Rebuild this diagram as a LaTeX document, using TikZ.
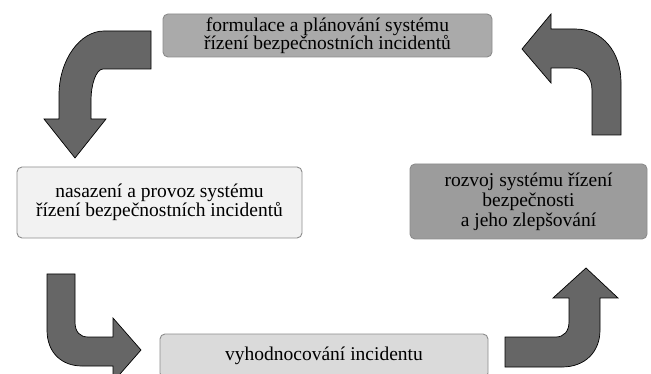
\documentclass[tikz,border=0pt]{standalone}
\usepackage{fontspec}
\setmainfont{Liberation Serif}
\usetikzlibrary{positioning}
\definecolor{arrowgray}{HTML}{666666}
\definecolor{plangray}{HTML}{AAAAAA}
\definecolor{deploygray}{HTML}{F2F2F2}
\definecolor{evalgray}{HTML}{DADADA}
\definecolor{improvegray}{HTML}{9C9C9C}
\tikzset{
    %Define style for the stage boxes
    stage/.style={
      rectangle,
      rounded corners=5pt,
      draw=black!45, line width=0.9pt,
      inner sep=0pt,
      align=center,
      font=\fontsize{19.5}{18.5}\selectfont},
    % Define style for the bent block arrows
    bentarr/.style={
      fill=arrowgray,
      draw=black,
      line width=0.7pt,
      line join=miter}
}

\begin{document}
\begin{tikzpicture}[x=1pt, y=-1pt]
    \clip (0,0) rectangle (651,374);
    \fill[white] (0,0) rectangle (651,374);

    \node[stage, fill=plangray, minimum width=329pt, minimum height=43pt]
      (plan) at (327.5,35.5)
      {formulace a plánování systému\\řízení bezpečnostních incidentů};
    \node[stage, fill=deploygray, minimum width=285pt, minimum height=71pt]
      (deploy) at (159.5,202.5)
      {nasazení a provoz systému\\řízení bezpečnostních incidentů};
    \node[stage, fill=improvegray, minimum width=237pt, minimum height=75pt,
      font=\fontsize{19.5}{20}\selectfont]
      (improve) at (528.5,201.5)
      {rozvoj systému řízení\\bezpečnosti\\a jeho zlepšování};
    \node[stage, fill=evalgray, minimum width=328pt, minimum height=44pt]
      (evaluate) at (324,356)
      {vyhodnocování incidentu};

    % plan -> deploy
    \draw[bentarr] (151,31) -- (104,31) .. controls (80,31) and (59,60) .. (59,95)
      -- (59,119) -- (44,119) -- (75,158) -- (106,119) -- (91,119) -- (91,100)
      .. controls (91,85) and (96,69) .. (103,69) -- (151,69) -- cycle;
    % deploy -> evaluate
    \draw[bentarr] (47,274) -- (47,330) .. controls (47,353) and (62,366) .. (82,366)
      -- (113,366) -- (113,382) -- (141,350) -- (113,318) -- (113,337) -- (88,337)
      .. controls (80,337) and (75,332) .. (75,322) -- (75,274) -- cycle;
    % evaluate -> improve
    \draw[bentarr] (505,337) -- (556,337) .. controls (564,337) and (569,331) .. (569,322)
      -- (569,298) -- (553,298) -- (586,268) -- (618,298) -- (600,298) -- (600,330)
      .. controls (600,352) and (585,367) .. (562,367) -- (505,367) -- cycle;
    % improve -> plan
    \draw[bentarr] (592,135) -- (592,90) .. controls (592,77) and (584,68) .. (572,68)
      -- (551,68) -- (551,83) -- (522,49) -- (551,14) -- (551,29) -- (575,29)
      .. controls (602,29) and (621,52) .. (621,82) -- (621,135) -- cycle;
\end{tikzpicture}
\end{document}
